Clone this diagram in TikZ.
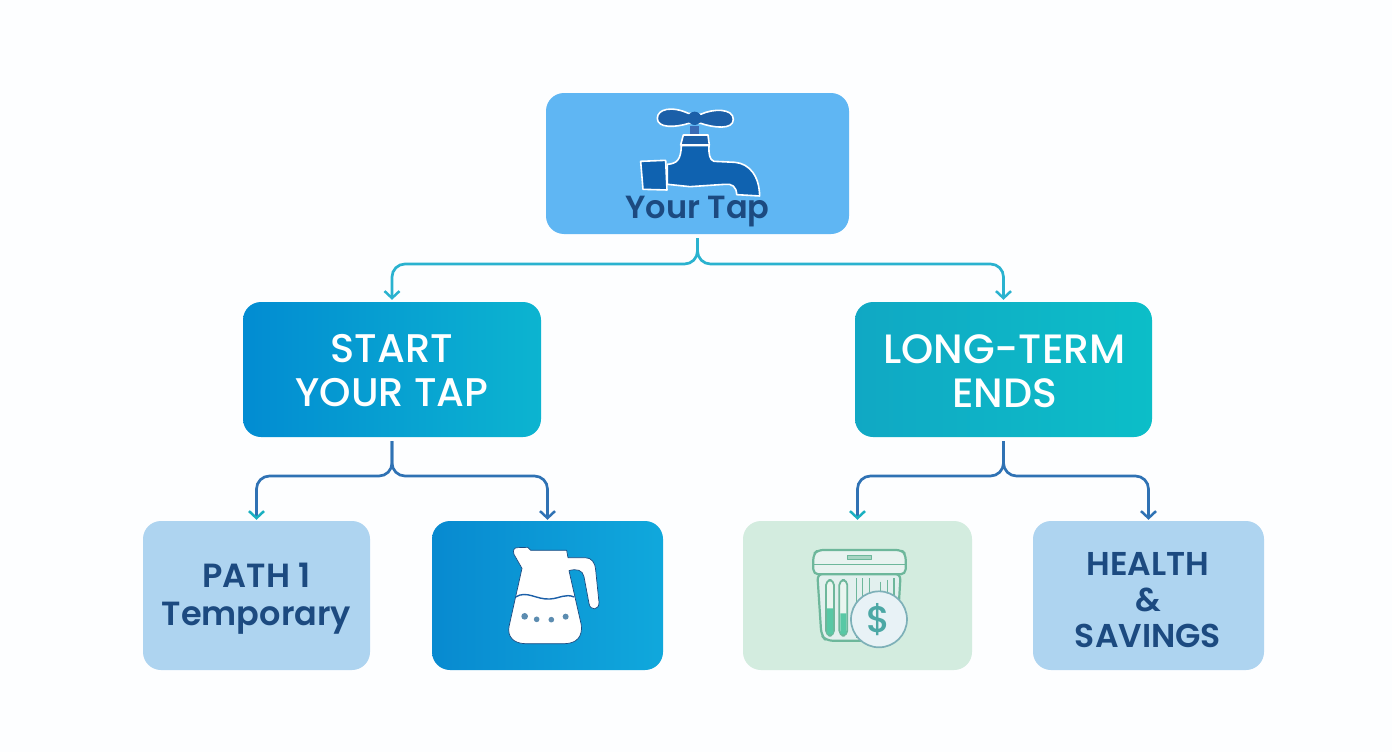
\documentclass[tikz,border=0pt]{standalone}
\usepackage{fontspec}
\setmainfont{Poppins}[UprightFont=* Medium]
\newfontfamily\semi{Poppins}[UprightFont=* SemiBold]
\usetikzlibrary{arrows.meta,calc}
\definecolor{bgc}{HTML}{FDFEFF}
\definecolor{topbox}{HTML}{5FB6F3}
\definecolor{paleblue}{HTML}{AED4F0}
\definecolor{palegreen}{HTML}{D3ECDF}
\definecolor{navy}{HTML}{1C4A80}
\definecolor{tapblue}{HTML}{0F62B0}
\definecolor{tapdark}{HTML}{1B5FA8}
\definecolor{linkcyan}{HTML}{2AB2CF}
\definecolor{linkblue}{HTML}{2F72B4}
\definecolor{tealtip}{HTML}{1AB0C0}
\definecolor{filterg}{HTML}{6DB79B}
\definecolor{startl}{HTML}{028CD2}
\definecolor{startr}{HTML}{0CB4D0}
\definecolor{longl}{HTML}{10A8C4}
\definecolor{longr}{HTML}{0CBEC8}
\definecolor{jugl}{HTML}{088AD0}
\definecolor{jugr}{HTML}{10A8DC}
\definecolor{stemc}{HTML}{3A6AB5}
\definecolor{dotc}{HTML}{5C8CB0}
\definecolor{bodyf}{HTML}{E2F0EE}
\definecolor{lidf}{HTML}{E8F3F0}
\definecolor{fluid}{HTML}{58C8A5}
\definecolor{coinf}{HTML}{E8F2F6}
\definecolor{coind}{HTML}{7DB0B8}
\definecolor{dollarc}{HTML}{4CA8A5}
\tikzset{
  box/.style={rectangle,rounded corners=18pt,inner sep=0pt},
  lab/.style={align=center,inner sep=0pt},
  wire/.style={line width=2.7pt,rounded corners=13pt},
  tip/.style={-{Straight Barb[length=7pt,width=15pt,line width=2.5pt,color=#1]}}
}
\begin{document}
\begin{tikzpicture}[x=1pt,y=-1pt]
\useasboundingbox (0,0) rectangle (1392,752);
\fill[bgc] (0,0) rectangle (1392,752);
% boxes
\node[box,fill=topbox,minimum width=303pt,minimum height=141pt] (top) at (697.5,163.5) {};
\node[box,left color=startl,right color=startr,minimum width=298pt,minimum height=135pt] (start) at (392,369.5) {};
\node[box,left color=longl,right color=longr,minimum width=297pt,minimum height=135pt] (long) at (1003.5,369.5) {};
\node[box,fill=paleblue,minimum width=227pt,minimum height=149pt] (path) at (256.5,595.5) {};
\node[box,left color=jugl,right color=jugr,minimum width=231pt,minimum height=149pt] (jug) at (547.5,595.5) {};
\node[box,fill=palegreen,minimum width=229pt,minimum height=149pt] (filter) at (857.5,595.5) {};
\node[box,fill=paleblue,minimum width=231pt,minimum height=149pt] (health) at (1148.5,595.5) {};
% connectors
\coordinate (topbus) at (0,264);
\coordinate (lowbus) at (0,476);
\draw[wire,linkcyan,tip=linkcyan,shorten <=4pt,shorten >=2pt] (top.south) -- (top.south |- topbus) -- (start.north |- topbus) -- (start.north);
\draw[wire,linkcyan,tip=linkcyan,shorten <=4pt,shorten >=2pt] (top.south) -- (top.south |- topbus) -- (long.north |- topbus) -- (long.north);
\draw[wire,linkblue,tip=tealtip,shorten <=4pt,shorten >=1pt] (start.south) -- (start.south |- lowbus) -- (path.north |- lowbus) -- (path.north);
\draw[wire,linkblue,tip=linkblue,shorten <=4pt,shorten >=1pt] (start.south) -- (start.south |- lowbus) -- (jug.north |- lowbus) -- (jug.north);
\draw[wire,linkblue,tip=tealtip,shorten <=4pt,shorten >=1pt] (long.south) -- (long.south |- lowbus) -- (filter.north |- lowbus) -- (filter.north);
\draw[wire,linkblue,tip=linkblue,shorten <=4pt,shorten >=1pt] (long.south) -- (long.south |- lowbus) -- (health.north |- lowbus) -- (health.north);
% faucet
\begin{scope}[shift={(540,85)},x=.3333pt,y=-.3333pt,draw=white,line width=1.6pt,line join=round]
\filldraw[fill=tapdark] (445,85) .. controls (395,62) and (352,72) .. (352,100) .. controls (352,130) and (405,128) .. (447,115) -- (482,115) .. controls (520,128) and (580,136) .. (580,103) .. controls (580,70) and (520,70) .. (482,88) -- cycle;
\fill[tapdark] (464,100) circle (20);
\fill[stemc] (450,122) rectangle (478,152);
\filldraw[fill=tapdark] (430,150) -- (504,150) -- (508,180) -- (422,180) -- cycle;
\filldraw[fill=tapblue] (424,182) -- (507,182) .. controls (506,205) and (508,225) .. (522,229) -- (585,232) .. controls (630,236) and (658,275) .. (659,333) -- (590,329) .. controls (590,305) and (575,295) .. (555,298) -- (450,305) -- (382,298) -- (382,238) .. controls (410,236) and (423,225) .. (424,182) -- cycle;
\filldraw[fill=tapblue] (302,229) -- (377,226) -- (381,315) -- (309,313) -- cycle;
\end{scope}
% jug
\begin{scope}[shift={(430,515)},x=.3333pt,y=-.3333pt,line join=round]
\filldraw[fill=white,draw=navy,line width=.7pt] (262,98) -- (293,97) -- (302,106) -- (410,106) -- (414,128) -- (465,128) .. controls (485,128) and (495,142) .. (497,165) -- (507,262) .. controls (508,287) and (480,288) .. (477,265) -- (462,185) .. controls (458,165) and (440,160) .. (417,167) -- (454,330) .. controls (458,365) and (440,385) .. (405,386) -- (285,386) .. controls (250,385) and (232,365) .. (237,335) -- (276,160) -- (252,118) .. controls (248,105) and (252,98) .. (262,98) -- cycle;
\draw[tapdark,line width=1.4pt] (257,246) .. controls (290,225) and (320,255) .. (360,252) .. controls (390,250) and (405,235) .. (433,246);
\fill[dotc] (284,304) circle (10) (320,313) circle (8.5) (364,314) circle (8.5) (407,305) circle (9);
\end{scope}
% filter with coin
\begin{scope}[shift={(740,515)},x=.3333pt,y=-.3333pt,line join=round]
\filldraw[fill=bodyf,draw=filterg,line width=2.2pt,rounded corners=6pt] (232,176) -- (244,360) -- (258,377) -- (470,377) -- (482,176) -- cycle;
\filldraw[fill=lidf,draw=filterg,line width=2.2pt,rounded corners=5pt] (220,178) -- (220,118) -- (234,105) -- (484,105) -- (497,118) -- (497,178) -- cycle;
\draw[filterg,line width=.8pt] (222,148) -- (495,148);
\filldraw[fill=filterg!60,draw=filterg,line width=.5pt] (323,120) rectangle (395,132);
\filldraw[fill=white!50!palegreen,draw=filterg,line width=1.8pt,rounded corners=5pt] (258,195) rectangle (282,362);
\filldraw[fill=white!50!palegreen,draw=filterg,line width=1.8pt,rounded corners=5pt] (298,195) rectangle (322,362);
\fill[fluid] (261,280) rectangle (279,358) (301,295) rectangle (319,358);
\draw[filterg,line width=1.3pt] (350,190) -- (350,370) (368,190) -- (368,260) (388,190) -- (388,240) (422,200) -- (422,235) (442,195) -- (442,235) (462,190) -- (462,250);
\filldraw[fill=coinf,draw=coind,line width=1.7pt] (417,313) circle (84);
\end{scope}
\node[lab,font=\fontsize{37}{37}\selectfont,text=dollarc] (dollar) at (878.5,620) {\$};
% labels
\node[lab,text=navy,font=\semi\fontsize{32}{36}\selectfont] (toplab) at (697.5,212) {Your Tap};
\node[lab,text=white,font=\fontsize{40}{44}\selectfont] (startlab) at (392,371) {START\\YOUR TAP};
\node[lab,text=white,font=\fontsize{41}{44}\selectfont] (longlab) at (1004.5,371) {LONG-TERM\\ENDS};
\node[lab,text=navy,font=\semi\fontsize{33.5}{38}\selectfont] (pathlab) at (256.5,599) {PATH 1\\Temporary};
\node[lab,text=navy,font=\semi\fontsize{33}{36}\selectfont] (healthlab) at (1148,600) {HEALTH\\\&\\SAVINGS};
\end{tikzpicture}
\end{document}
